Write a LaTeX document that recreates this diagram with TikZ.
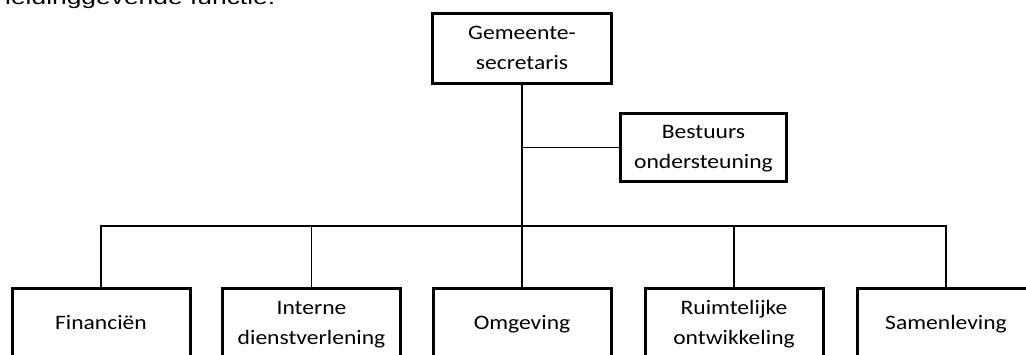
\documentclass[tikz,border=0pt]{standalone}
\usepackage{fontspec}
\usepackage{graphicx}
\newfontfamily\boxfont{Carlito}
\newfontfamily\bodyfont{Liberation Sans}
% box label: centred lines, set a little wide
\newcommand\unitlabel[1]{\scalebox{1.15}[1]{\begin{tabular}{@{}c@{}}#1\end{tabular}}}
\tikzset{
  unit/.style={draw=black, line width=3pt, fill=white, inner sep=0pt,
    align=center, font=\boxfont\fontsize{20.5}{30}\selectfont},
  topunit/.style={unit, minimum width=179pt, minimum height=70pt},
  staffunit/.style={unit, minimum width=166pt, minimum height=68pt},
  deptunit/.style={unit, minimum width=178pt, minimum height=70pt},
  trunkline/.style={line width=2.5pt},
  branchline/.style={line width=1.4pt},
}
\begin{document}
\begin{tikzpicture}[x=1pt, y=-1pt]
  \useasboundingbox (0,0) rectangle (1026,354);
  \clip (0,0) rectangle (1026,354);
  \fill[white] (0,0) rectangle (1026,354);

  % tail of the preceding paragraph line
  \node[anchor=base west, inner sep=0pt, font=\bodyfont\fontsize{20}{24}\selectfont]
    (para) at (5,4.5) {\scalebox{1.32}[1]{leidinggevende functie.}};

  % management
  \node[topunit] (gs) at (522,48.5) {\unitlabel{Gemeente-\\secretaris}};
  \node[staffunit] (bo) at (703.5,147.5) {\unitlabel{Bestuurs\\ondersteuning}};

  % departments
  \node[deptunit] (fin) at (101,323.5) {\unitlabel{Financiën}};
  \node[deptunit] (idv) at (311.5,323.5) {\unitlabel{Interne\\dienstverlening}};
  \node[deptunit] (omg) at (522,323.5) {\unitlabel{Omgeving}};
  \node[deptunit] (ro)  at (734,323.5) {\unitlabel{Ruimtelijke\\ontwikkeling}};
  \node[deptunit] (sam) at (946,323.5) {\unitlabel{Samenleving}};

  % branching point of the department bus
  \coordinate (bus) at (522,226);

  % connectors
  \draw[trunkline] (gs.south) -- (bus);
  \draw[branchline] (bo.west) -- (bo.west -| gs.south);
  \foreach \d in {fin,idv,omg,ro,sam}
    \draw[branchline] (bus) -| (\d.north);
\end{tikzpicture}
\end{document}
